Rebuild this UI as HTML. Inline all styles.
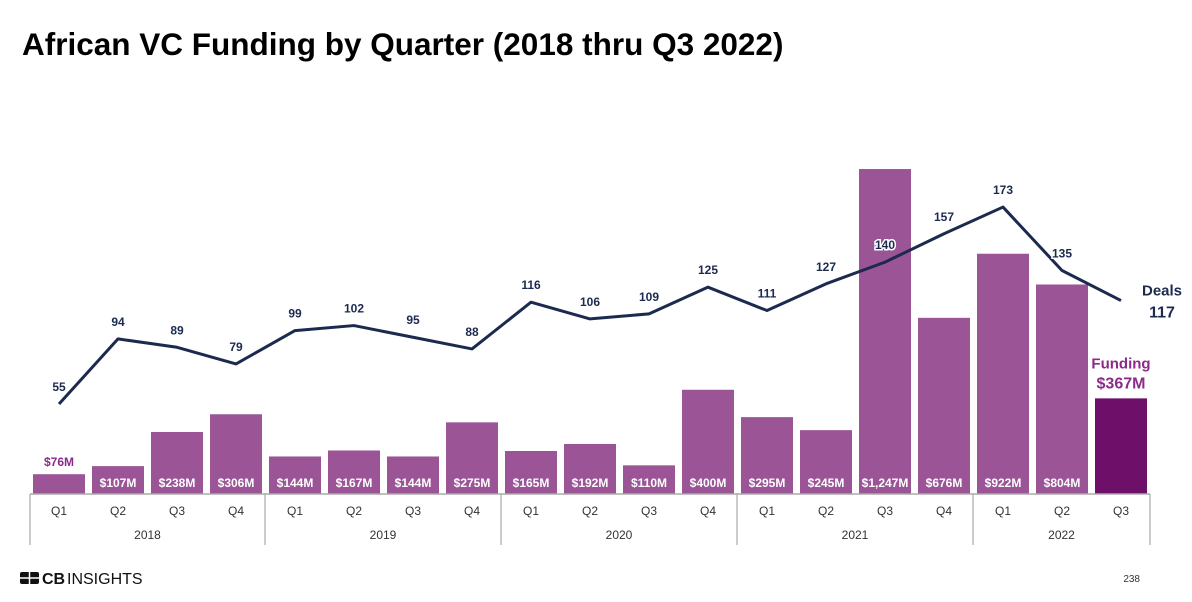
<!DOCTYPE html>
<html><head><meta charset="utf-8"><style>
body{margin:0;background:#fff;width:1192px;height:602px;overflow:hidden;font-family:"Liberation Sans",sans-serif}
h1{position:absolute;left:22px;top:26px;margin:0;font-size:31.5px;font-weight:bold;color:#000;white-space:nowrap}
</style></head><body>
<h1>African VC Funding by Quarter (2018 thru Q3 2022)</h1>
<svg id="c" width="1192" height="602" style="position:absolute;left:0;top:0"></svg>
<script>
const quarters=["Q1","Q2","Q3","Q4","Q1","Q2","Q3","Q4","Q1","Q2","Q3","Q4","Q1","Q2","Q3","Q4","Q1","Q2","Q3"];
const years=["2018","2019","2020","2021","2022"];
const funding=[76,107,238,306,144,167,144,275,165,192,110,400,295,245,1247,676,922,804,367];
const fundingLabels=["$76M","$107M","$238M","$306M","$144M","$167M","$144M","$275M","$165M","$192M","$110M","$400M","$295M","$245M","$1,247M","$676M","$922M","$804M","$367M"];
const deals=[55,94,89,79,99,102,95,88,116,106,109,125,111,127,140,157,173,135,117];
const svg=document.getElementById('c');const NS='http://www.w3.org/2000/svg';
const base=494;
function x(i){return 59+59*i;}
function yF(v){return base-v*0.2606;}
function yD(v){return 495.8-v*1.669;}
function mk(t,a,txt){const e=document.createElementNS(NS,t);for(const k in a)e.setAttribute(k,a[k]);if(txt!=null)e.textContent=txt;svg.appendChild(e);return e;}
funding.forEach((v,i)=>{
 const last=i===funding.length-1;
 const r=mk('rect',{x:x(i)-26,y:yF(v),width:52,height:base-yF(v),fill:last?'#6e0f6a':'#9b5597'});
 
 
 if(last)return;
 const small=v<100;
 const t=mk('text',{x:x(i),y:small?yF(v)-8:base-7,'text-anchor':'middle','font-size':12,'font-weight':'bold',fill:small?'#8b2a8a':'#fff'},fundingLabels[i]);
 
 
});
// axis
mk('line',{x1:30,y1:base,x2:1150,y2:base,stroke:'#aaa','stroke-width':1.5});
const divs=[30,265,501,737,973,1150];
divs.forEach(d=>mk('line',{x1:d,y1:base,x2:d,y2:545,stroke:'#aaa','stroke-width':1.2}));
quarters.forEach((q,i)=>{const t=mk('text',{x:x(i),y:515,'text-anchor':'middle','font-size':12,fill:'#333'},q);
 
 });
years.forEach((yr,k)=>{const t=mk('text',{x:(divs[k]+divs[k+1])/2,y:539,'text-anchor':'middle','font-size':12,fill:'#333'},yr);
 
 });
// line
const pl=mk('polyline',{points:deals.map((d,i)=>x(i)+','+yD(d)).join(' '),fill:'none',stroke:'#1b2a4e','stroke-width':3,'stroke-linejoin':'round'});


deals.forEach((d,i)=>{if(i===deals.length-1)return;
 const t=mk('text',{x:x(i),y:yD(d)-13,'text-anchor':'middle','font-size':12,'font-weight':'bold',fill:'#1b2a4e',stroke:'#fff','stroke-width':3,'paint-order':'stroke'},d);
 
 });
const n=deals.length-1;
let t=mk('text',{x:1162,y:yD(deals[n])-5,'text-anchor':'middle','font-size':15,'font-weight':'bold',fill:'#1b2a4e'},'Deals');

t=mk('text',{x:1162,y:yD(deals[n])+17,'text-anchor':'middle','font-size':16,'font-weight':'bold',fill:'#1b2a4e'},deals[n]);

t=mk('text',{x:x(n),y:yF(funding[n])-30,'text-anchor':'middle','font-size':15,'font-weight':'bold',fill:'#8b2a8a'},'Funding');

t=mk('text',{x:x(n),y:yF(funding[n])-10,'text-anchor':'middle','font-size':16,'font-weight':'bold',fill:'#8b2a8a'},fundingLabels[n]);

// logo
mk('rect',{x:20,y:572,width:19,height:12,fill:'#111',rx:2});
mk('line',{x1:29.5,y1:572,x2:29.5,y2:584,stroke:'#fff','stroke-width':1.5});
mk('line',{x1:20,y1:578,x2:39,y2:578,stroke:'#fff','stroke-width':1.5});
t=mk('text',{x:42,y:584,'font-size':16,fill:'#111','font-weight':'bold'},'CB');

mk('text',{x:67,y:584,'font-size':16,fill:'#111'},'INSIGHTS');
t=mk('text',{x:1140,y:582,'text-anchor':'end','font-size':10,fill:'#333'},'238');

</script>
</body></html>
